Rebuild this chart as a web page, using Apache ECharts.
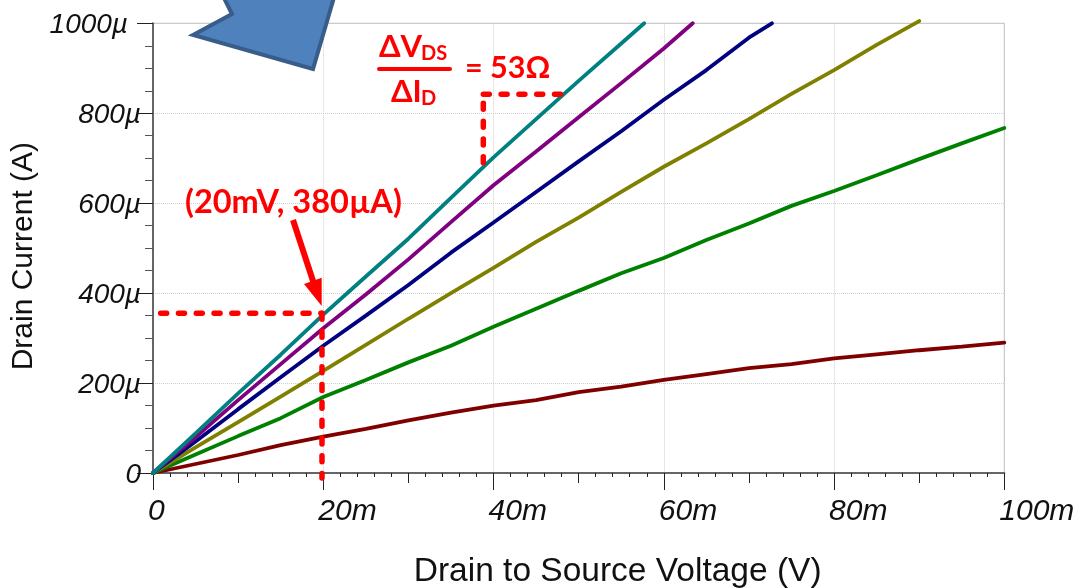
<!DOCTYPE html>
<html>
<head>
<meta charset="utf-8">
<script src="https://cdn.jsdelivr.net/npm/echarts@6/dist/echarts.min.js"></script>
<style>html,body{margin:0;padding:0;background:#fff}#c{width:1078px;height:588px}</style>
</head>
<body>
<div id="c"></div>
<script>
// x in mV, y in µA
const teal = [[0,0],[5,88],[10,177],[15,263],[20,352],[25,437],[30,521],[35,612],[40,702],[45,787],[50,872],[55,955],[57.7,1000]];
const purple = [[0,0],[5,80],[10,162],[15,242],[20,322],[25,397],[30,475],[35,558],[40,640],[45,715],[50,791],[55,867],[60,944],[63.4,1000]];
const navy = [[0,0],[5,70],[10,142],[15,213],[20,283],[25,350],[30,418],[35,490],[40,557],[45,625],[50,693],[55,760],[60,830],[65,896],[70,968],[72.7,1000]];
const olive = [[0,0],[5,57],[10,113],[15,170],[20,227],[25,285],[30,343],[35,400],[40,456],[45,514],[50,568],[55,625],[60,681],[65,733],[70,787],[75,843],[80,896],[85,952],[90,1005]];
const green = [[0,0],[5,41],[10,82],[15,122],[20,169],[25,207],[30,246],[35,283],[40,325],[45,365],[50,405],[55,444],[60,478],[65,518],[70,555],[75,594],[80,627],[85,662],[90,698],[95,733],[100,767]];
const maroon = [[0,0],[5,20],[10,40],[15,62],[20,81],[25,98],[30,117],[35,134],[40,150],[45,162],[50,180],[55,192],[60,207],[65,220],[70,233],[75,242],[80,255],[85,264],[90,273],[95,281],[100,290]];
const guideH1 = [[0.9,355],[19.85,355]];
const guideV1 = [[19.85,355],[19.85,-11]];
const guideH2 = [[38.8,842],[48.2,842]];
const guideV2 = [[38.8,822],[38.8,681]];

const curves = [
  ['Vgs1', maroon, '#800000'],
  ['Vgs2', green, '#008000'],
  ['Vgs3', olive, '#808000'],
  ['Vgs4', navy, '#000080'],
  ['Vgs5', purple, '#800080'],
  ['Vgs6', teal, '#008080']
];
const guides = [guideH1, guideV1, guideH2, guideV2];
const RED = '#ff0000';
const REDFONT = 'Lato, "Open Sans", sans-serif';
const AXFONT = '"Liberation Sans", Arial, sans-serif';

function redText(x, y, text, size, align) {
  return {type:'text', x:x, y:y, z:20, style:{text:text, fill:RED, font:'bold '+size+'px '+REDFONT, textAlign:align||'left', textVerticalAlign:'middle'}};
}

const chart = echarts.init(document.getElementById('c'), null, {renderer:'canvas'});
chart.setOption({
  animation:false,
  backgroundColor:'#fff',
  grid:{left:153, top:23.3, width:851.3, height:449.7, show:true, outerBoundsMode:'none', containLabel:false, borderColor:'#bdbdbd', borderWidth:1, backgroundColor:'transparent'},
  xAxis:[{
    type:'value', min:0, max:100, interval:20,
    name:'Drain to Source Voltage (V)', nameLocation:'middle', nameGap:82,
    nameTextStyle:{fontFamily:AXFONT, fontSize:33.5, color:'#111', padding:[0,0,0,78]},
    axisLine:{show:true, onZero:false, lineStyle:{color:'#666', width:2}},
    axisTick:{show:true, length:17, lineStyle:{color:'#222', width:1}},
    minorTick:{show:true, splitNumber:10, length:4, lineStyle:{color:'#222', width:1}},
    splitLine:{show:true, showMinLine:false, showMaxLine:false, lineStyle:{color:'#cfcfcf', type:'dotted', width:1}},
    axisLabel:{align:'left', margin:24, padding:[0,0,0,-5], fontFamily:AXFONT, fontStyle:'italic', fontSize:30, color:'#111',
      formatter:v=> v===0 ? '0' : v+'m', showMinLabel:true, showMaxLabel:true}
  },{
    type:'value', min:0, max:100, interval:10, position:'bottom',
    axisLine:{show:false},
    axisTick:{show:true, length:10, lineStyle:{color:'#222', width:1}},
    splitLine:{show:false}, axisLabel:{show:false}
  }],
  yAxis:{
    type:'value', min:0, max:1000, interval:200,
    name:'Drain Current (A)', nameLocation:'middle', nameGap:108, nameRotate:90,
    nameTextStyle:{fontFamily:AXFONT, fontSize:30, color:'#111', padding:[0,16,0,0]},
    axisLine:{show:true, onZero:false, lineStyle:{color:'#666', width:2}},
    axisTick:{show:true, length:16, lineStyle:{color:'#222', width:1}},
    minorTick:{show:true, splitNumber:4, length:8, lineStyle:{color:'#555', width:1}},
    splitLine:{show:true, showMinLine:false, showMaxLine:false, lineStyle:{color:'#cfcfcf', type:'dotted', width:1}},
    axisLabel:{margin:12, padding:[4,0,0,0], fontFamily:AXFONT, fontStyle:'italic', fontSize:28, color:'#111',
      formatter:v=> v===0 ? '0' : (v===1000 ? '{k|1000µ}' : v+'µ'),
      rich:{k:{fontFamily:AXFONT, fontStyle:'italic', fontSize:28, color:'#111', padding:[0,13,0,0]}}}
  },
  series: curves.map(c=>({
    type:'line', name:c[0], data:c[1], xAxisIndex:0, showSymbol:false, clip:false, z:5,
    lineStyle:{color:c[2], width:3.8, cap:'round'}, itemStyle:{color:c[2]}
  })).concat(guides.map((g,i)=>({
    type:'line', name:'guide'+i, data:g, xAxisIndex:0, showSymbol:false, clip:false, z:10,
    lineStyle:{color:RED, width:5.5, type:[6,11.8], cap:'round'}, itemStyle:{color:RED}
  }))),
  graphic:[
    {type:'polygon', z:15, shape:{points:[[193,35],[232,14],[222,-6],[335,-6],[313,69]]},
      style:{fill:'#4f81bd', stroke:'#385d8a', lineWidth:4, lineJoin:'miter'}},
    redText(185, 203, '(20mV, 380µA)', 32.5),
    {type:'line', z:20, shape:{x1:293,y1:220,x2:314,y2:284}, style:{stroke:RED, lineWidth:6}},
    {type:'polygon', z:20, shape:{points:[[304,284],[321.7,277.7],[321.7,306]]}, style:{fill:RED}},
    redText(379, 47, 'ΔV', 31),
    redText(421, 54, 'DS', 20),
    {type:'line', z:20, shape:{x1:379,y1:69,x2:450,y2:69}, style:{stroke:RED, lineWidth:4, lineCap:'round'}},
    redText(391, 92, 'ΔI', 31),
    redText(421, 99, 'D', 20),
    redText(465, 68, '= 53Ω', 30.5)
  ]
});
</script>
</body>
</html>
